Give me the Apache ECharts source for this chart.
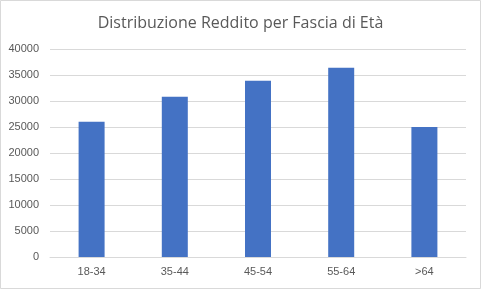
<!DOCTYPE html>
<html>
<head>
<meta charset="utf-8">
<script src="https://cdn.jsdelivr.net/npm/echarts@6/dist/echarts.min.js"></script>
<style>
html,body{margin:0;padding:0;background:#fff;}
#chart{width:481px;height:289px;}
</style>
</head>
<body>
<div id="chart"></div>
<script>
const categories = ['18-34', '35-44', '45-54', '55-64', '>64'];
const reddito = [26000, 30800, 33900, 36400, 25000];
const titleText = 'Distribuzione Reddito per Fascia di Età';

const chart = echarts.init(document.getElementById('chart'), null, {renderer: 'canvas'});
chart.setOption({
  backgroundColor: '#ffffff',
  animation: false,
  title: {
    text: titleText,
    left: 'center',
    top: 10,
    textStyle: {fontFamily: 'Open Sans', fontSize: 16, fontWeight: 'normal', color: '#595959'}
  },
  graphic: [{
    type: 'rect',
    shape: {x: 0.5, y: 0.5, width: 480, height: 288},
    style: {fill: 'none', stroke: '#d9d9d9', lineWidth: 1},
    silent: true
  }],
  grid: {left: 50, right: 15, top: 49, bottom: 32, containLabel: false},
  xAxis: {
    type: 'category',
    data: categories,
    axisLine: {show: true, lineStyle: {color: '#d9d9d9', width: 1}},
    axisTick: {show: false},
    axisLabel: {color: '#595959', fontSize: 11, fontFamily: 'Liberation Sans', margin: 9}
  },
  yAxis: {
    type: 'value',
    min: 0,
    max: 40000,
    interval: 5000,
    axisLine: {show: false},
    axisTick: {show: false},
    axisLabel: {color: '#595959', fontSize: 11, fontFamily: 'Liberation Sans', margin: 11,
      formatter: function (v) { return String(v); }},
    splitLine: {lineStyle: {color: '#d9d9d9', width: 1}}
  },
  series: [{
    type: 'bar',
    data: reddito,
    barWidth: 26,
    itemStyle: {color: '#4472c4'}
  }]
});
</script>
</body>
</html>
